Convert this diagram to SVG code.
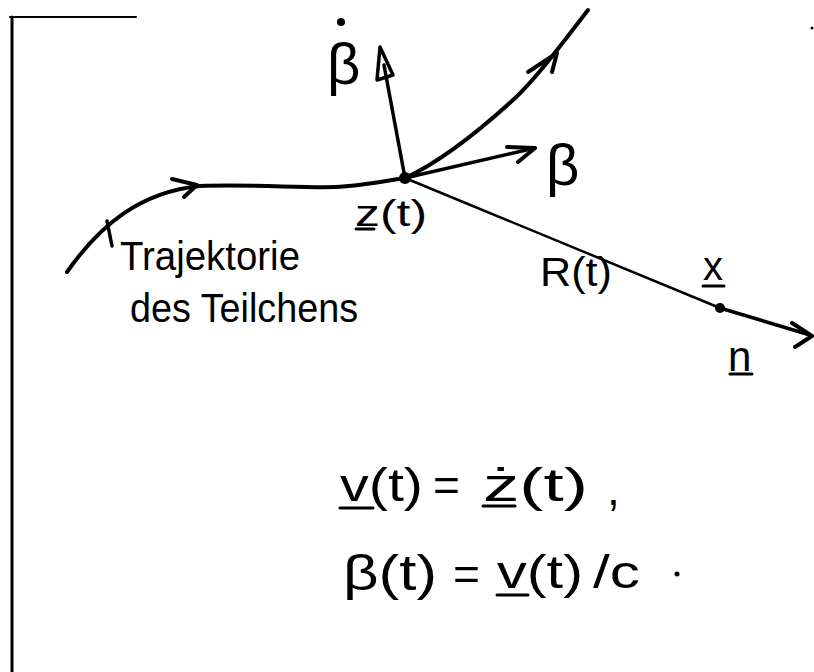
<svg xmlns="http://www.w3.org/2000/svg" width="814" height="672" viewBox="0 0 814 672">
<style>
.t{font-family:"Liberation Sans","DejaVu Sans",sans-serif;fill:#000}
.ln{stroke:#000;fill:none;stroke-linecap:round;stroke-linejoin:round}
</style>
<rect width="814" height="672" fill="#fff"/>
<g id="frame">
<line class="ln" x1="10" y1="17" x2="136" y2="17" stroke-width="2"/>
<line class="ln" x1="12" y1="17" x2="12" y2="672" stroke-width="3"/>
<circle cx="812" cy="28" r="1.5" fill="#000"/>
</g>
<g id="connectors">
<path class="ln" stroke-width="4" d="M67,272 C100,225 140,192 200,186 C250,184 300,188 335,187 C360,186 385,181 405,178"/>
<path class="ln" stroke-width="4" d="M405,178 C440,162 480,130 513,100 C535,80 565,40 588,10"/>
<path class="ln" stroke-width="4" d="M172,179 L197,185 L184,197"/>
<path class="ln" stroke-width="4" d="M528,72 L557,53 L552,72"/>
<line class="ln" x1="107" y1="221" x2="112" y2="246" stroke-width="3.5"/>
<line class="ln" x1="405" y1="178" x2="384" y2="65" stroke-width="3.5"/>
<path class="ln" stroke-width="3.5" d="M380,47 L377,80 L393,75 Z"/>
<line class="ln" x1="405" y1="178" x2="535" y2="148" stroke-width="3.5"/>
<path class="ln" stroke-width="4" d="M507,147 L535,148 L518,162"/>
<line class="ln" x1="405" y1="178" x2="720" y2="308" stroke-width="2.5"/>
<line class="ln" x1="720" y1="308" x2="810" y2="335" stroke-width="3.5"/>
<path class="ln" stroke-width="4" d="M792,323 L812,336 L795,347"/>
</g>
<g id="node-z">
<circle cx="405" cy="178" r="6" fill="#000"/>
<text class="t" x="355" y="226" font-size="36" textLength="72" lengthAdjust="spacingAndGlyphs">z(t)</text>
<line class="ln" x1="356" y1="229" x2="374" y2="229" stroke-width="3"/>
</g>
<g id="node-x">
<circle cx="720" cy="308" r="5" fill="#000"/>
<text class="t" x="703" y="280" font-size="40">x</text>
<line class="ln" x1="703" y1="286" x2="724" y2="286" stroke-width="3"/>
</g>
<g id="label-n">
<text class="t" x="728" y="371" font-size="42">n</text>
<line class="ln" x1="730" y1="374" x2="752" y2="374" stroke-width="3"/>
</g>
<g id="label-betadot">
<circle cx="341" cy="22" r="4" fill="#000"/>
<text class="t" x="327" y="84" font-size="58">β</text>
</g>
<g id="label-beta">
<text class="t" x="546" y="185" font-size="58">β</text>
</g>
<g id="label-R">
<text class="t" x="540" y="286" font-size="40" textLength="72" lengthAdjust="spacingAndGlyphs">R(t)</text>
</g>
<g id="label-trajectory">
<text class="t" x="120" y="270" font-size="40" textLength="180" lengthAdjust="spacingAndGlyphs">Trajektorie</text>
<text class="t" x="130" y="322" font-size="40" textLength="228" lengthAdjust="spacingAndGlyphs">des Teilchens</text>
</g>
<g id="formulas">
<text class="t" x="340" y="501" font-size="46" textLength="83" lengthAdjust="spacingAndGlyphs">v(t)</text>
<line class="ln" x1="340" y1="508" x2="373" y2="508" stroke-width="3"/>
<text class="t" x="433" y="501" font-size="46">=</text>
<text class="t" x="483" y="501" font-size="46" textLength="105" lengthAdjust="spacingAndGlyphs">ż(t)</text>
<line class="ln" x1="483" y1="506" x2="515" y2="506" stroke-width="3"/>
<text class="t" x="607" y="505" font-size="46">,</text>
<text class="t" x="343" y="590" font-size="50" textLength="94" lengthAdjust="spacingAndGlyphs">β(t)</text>
<text class="t" x="453" y="590" font-size="46">=</text>
<text class="t" x="497" y="588" font-size="46" textLength="86" lengthAdjust="spacingAndGlyphs">v(t)</text>
<line class="ln" x1="497" y1="595" x2="528" y2="595" stroke-width="3"/>
<text class="t" x="593" y="588" font-size="46" textLength="47" lengthAdjust="spacingAndGlyphs">/c</text>
<circle cx="677" cy="574" r="2.5" fill="#000"/>
</g>
</svg>
